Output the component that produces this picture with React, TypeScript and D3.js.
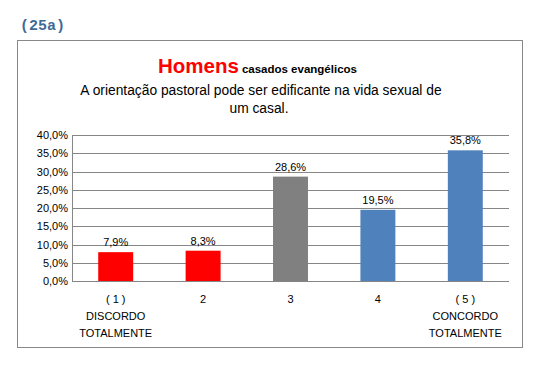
import React, { useEffect, useRef } from 'react';
import * as d3 from 'd3';

const categories = ['1', '2', '3', '4', '5'];
const catLines = [['( 1 )', 'DISCORDO', 'TOTALMENTE'], ['2'], ['3'], ['4'], ['( 5 )', 'CONCORDO', 'TOTALMENTE']];
const values = [7.9, 8.3, 28.6, 19.5, 35.8];
const barColors = ['#FF0000', '#FF0000', '#808080', '#4F81BD', '#4F81BD'];
const yTicks = [0, 5, 10, 15, 20, 25, 30, 35, 40];

const width = 545;
const height = 367;

const App = () => {
  const svgRef = useRef<SVGSVGElement | null>(null);

  useEffect(() => {
    const svg = d3.select(svgRef.current);
    svg.selectAll('*').remove();

    const font = '"Liberation Sans", Arial, sans-serif';
    const fmt = (v: number) => v.toFixed(1).replace('.', ',') + '%';

    // Label above the frame
    svg.append('text')
      .attr('x', 20).attr('y', 30)
      .attr('fill', '#3F6A98')
      .style('font-family', '"Liberation Mono", "Courier New", monospace')
      .style('font-weight', 'bold')
      .style('font-size', '15px')
      .text('(25a)');

    // Frame
    svg.append('rect')
      .attr('x', 17.5).attr('y', 40.5)
      .attr('width', 505).attr('height', 307)
      .attr('fill', 'white')
      .attr('stroke', '#888888');

    // Title
    const t = svg.append('text')
      .attr('x', 158).attr('y', 73)
      .style('font-family', font);
    t.append('tspan')
      .attr('fill', '#FF0000')
      .style('font-size', '20.5px')
      .style('font-weight', 'bold')
      .text('Homens');
    t.append('tspan')
      .attr('dx', 3)
      .attr('fill', '#000')
      .style('font-size', '11.5px')
      .style('font-weight', 'bold')
      .text('casados evangélicos');

    svg.append('text')
      .attr('x', 261).attr('y', 95)
      .attr('text-anchor', 'middle')
      .style('font-family', font)
      .style('font-size', '13.8px')
      .text('A orientação pastoral pode ser edificante na vida sexual de');
    svg.append('text')
      .attr('x', 259).attr('y', 113)
      .attr('text-anchor', 'middle')
      .style('font-family', font)
      .style('font-size', '13.8px')
      .text('um casal.');

    // Plot
    const left = 72, right = 509, top = 135, bottom = 281;
    const x = d3.scaleBand().domain(categories).range([left, right]).paddingInner(0.6).paddingOuter(0.3);
    const y = d3.scaleLinear().domain([0, 40]).range([bottom, top]);

    svg.append('g')
      .selectAll('line')
      .data(yTicks)
      .enter()
      .append('line')
      .attr('x1', left).attr('x2', right)
      .attr('y1', d => Math.round(y(d)) + 0.5)
      .attr('y2', d => Math.round(y(d)) + 0.5)
      .attr('stroke', '#868686');

    svg.append('line')
      .attr('x1', left + 0.5).attr('x2', left + 0.5)
      .attr('y1', top).attr('y2', bottom)
      .attr('stroke', '#868686');

    svg.append('g')
      .selectAll('text')
      .data(yTicks)
      .enter()
      .append('text')
      .attr('x', 68)
      .attr('y', d => y(d) + 4)
      .attr('text-anchor', 'end')
      .style('font-family', font)
      .style('font-size', '11px')
      .text(d => fmt(d));

    svg.append('g')
      .selectAll('rect')
      .data(values)
      .enter()
      .append('rect')
      .attr('x', (d, i) => x(categories[i])!)
      .attr('y', d => y(d))
      .attr('width', x.bandwidth())
      .attr('height', d => bottom - y(d))
      .attr('fill', (d, i) => barColors[i]);

    svg.append('g')
      .selectAll('text')
      .data(values)
      .enter()
      .append('text')
      .attr('x', (d, i) => x(categories[i])! + x.bandwidth() / 2)
      .attr('y', d => y(d) - 6)
      .attr('text-anchor', 'middle')
      .style('font-family', font)
      .style('font-size', '11px')
      .text(d => fmt(d));

    // Category labels, possibly on several lines
    catLines.forEach((lines, i) => {
      const cx = x(categories[i])! + x.bandwidth() / 2;
      lines.forEach((ln, j) => {
        svg.append('text')
          .attr('x', cx)
          .attr('y', 303 + j * 17)
          .attr('text-anchor', 'middle')
          .style('font-family', font)
          .style('font-size', '11px')
          .text(ln);
      });
    });
  }, []);

  return (
    <svg ref={svgRef} width={width} height={height}
      style={{ position: 'absolute', left: 0, top: 0, background: 'white' }} />
  );
};

export default App;
